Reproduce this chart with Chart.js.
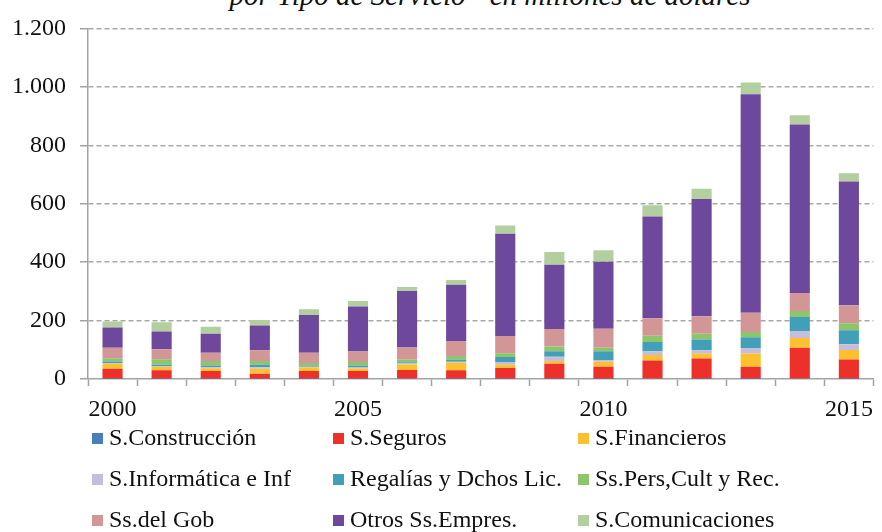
<!DOCTYPE html>
<html>
<head>
<meta charset="utf-8">
<script src="https://cdn.jsdelivr.net/npm/chart.js@4.4.1/dist/chart.umd.min.js"></script>
<style>
  body { margin: 0; background: #fff; }
  #wrap { position: relative; width: 882px; height: 532px; overflow: hidden; background: #fff; }
  #title { position: absolute; top: -19px; left: 490px; transform: translateX(-50%); white-space: nowrap;
           font: italic 29px "Liberation Serif", "Times New Roman", serif; line-height: 29px; color: #111; }
  canvas { position: absolute; left: 0; top: 0; }
  .leg { position: absolute; white-space: nowrap; font: 24px "Liberation Serif", "Times New Roman", serif;
         color: #111; line-height: 24px; }
  .leg i { display: inline-block; width: 11px; height: 11px; margin-right: 6px; vertical-align: 1px; }
</style>
</head>
<body>
<div id="wrap">
  <div id="title">por Tipo de Servicio - en millones de dólares</div>
  <canvas id="chart" width="882" height="532"></canvas>
  <div id="legend"></div>
</div>
<script>
const years = [2000, 2001, 2002, 2003, 2004, 2005, 2006, 2007, 2008, 2009, 2010, 2011, 2012, 2013, 2014, 2015];
const yTicks = [0, 200, 400, 600, 800, 1000, 1200];

// millones de dólares, por rubro
const construccion   = [1, 1, 1, 1, 1, 1, 2, 1, 1, 1, 1, 2, 1, 1, 2, 1];
const seguros        = [34, 29, 26, 17, 26, 26, 29, 29, 37, 51, 41, 61, 69, 41, 105, 66];
const financieros    = [17, 11, 10, 17, 13, 9, 19, 26, 11, 10, 17, 19, 17, 45, 33, 32];
const informatica    = [3, 3, 3, 5, 2, 3, 3, 3, 9, 14, 6, 13, 11, 19, 24, 20];
const regalias       = [5, 5, 6, 9, 4, 7, 4, 7, 17, 19, 30, 32, 37, 37, 48, 48];
const persCult       = [11, 19, 16, 13, 9, 12, 10, 13, 13, 16, 12, 21, 20, 18, 21, 24];
const gobierno       = [36, 34, 28, 36, 35, 36, 41, 51, 59, 60, 65, 60, 60, 66, 61, 61];
const otrosEmpres    = [69, 61, 65, 85, 129, 154, 193, 193, 350, 220, 229, 348, 401, 748, 577, 424];
const comunicaciones = [21, 31, 24, 19, 20, 19, 14, 16, 28, 44, 40, 39, 35, 40, 32, 28];

const series = [
  { label: 'S.Construcción',        data: construccion,   color: '#4a7ebb' },
  { label: 'S.Seguros',             data: seguros,        color: '#ee302b' },
  { label: 'S.Financieros',         data: financieros,    color: '#fdc02f' },
  { label: 'S.Informática e Inf',   data: informatica,    color: '#c5bddb' },
  { label: 'Regalías y Dchos Lic.', data: regalias,       color: '#41a0b8' },
  { label: 'Ss.Pers,Cult y Rec.',   data: persCult,       color: '#8cc56a' },
  { label: 'Ss.del Gob',            data: gobierno,       color: '#d39696' },
  { label: 'Otros Ss.Empres.',      data: otrosEmpres,    color: '#6e489c' },
  { label: 'S.Comunicaciones',      data: comunicaciones, color: '#b3cfa0' }
];

const serif = '"Liberation Serif", "Times New Roman", serif';
const axisGray = '#a3a3a3';

new Chart(document.getElementById('chart'), {
  type: 'bar',
  data: {
    labels: years.map(String),
    datasets: series.map(s => ({
      label: s.label, data: s.data, backgroundColor: s.color,
      borderWidth: 0, barPercentage: 0.41, categoryPercentage: 1
    }))
  },
  options: {
    responsive: false,
    animation: false,
    layout: { padding: { top: 26, right: 4, bottom: 108, left: 0 } },
    plugins: { legend: { display: false }, tooltip: { enabled: false } },
    scales: {
      x: {
        stacked: true,
        afterFit: s => { s.height = 45; },
        grid: { offset: true, drawOnChartArea: false, color: axisGray, tickLength: 7, tickWidth: 1.5 },
        border: { color: axisGray, width: 1.5 },
        ticks: {
          autoSkip: false, maxRotation: 0, padding: 9, color: '#111',
          font: { family: serif, size: 24 },
          callback: (v, i) => (years[i] % 5 === 0 ? String(years[i]) : '')
        }
      },
      y: {
        stacked: true, min: 0, max: 1200,
        afterFit: s => { s.width = 88; },
        afterBuildTicks: s => { s.ticks = yTicks.map(v => ({ value: v })); },
        grid: {
          color: c => (c.tick && c.tick.value === 0 ? 'rgba(0,0,0,0)' : '#a8a8a8'),
          lineWidth: 1.5, tickLength: 8, tickColor: axisGray, tickWidth: 1.5
        },
        border: { color: axisGray, width: 1.5, dash: [5, 3] },
        ticks: {
          padding: 14, color: '#111',
          font: { family: serif, size: 24 },
          callback: v => String(v).replace(/\B(?=(\d{3})+(?!\d))/g, '.')
        }
      }
    }
  }
});

// leyenda en tres columnas bajo el eje
const legend = document.getElementById('legend');
const colX = [92, 333, 578];
const rowY = [437, 478, 519];
series.forEach((s, i) => {
  const d = document.createElement('div');
  d.className = 'leg';
  d.style.left = colX[i % 3] + 'px';
  d.style.top = (rowY[Math.floor(i / 3)] - 12) + 'px';
  d.innerHTML = `<i style="background:${s.color}"></i>${s.label}`;
  legend.appendChild(d);
});
</script>
</body>
</html>
